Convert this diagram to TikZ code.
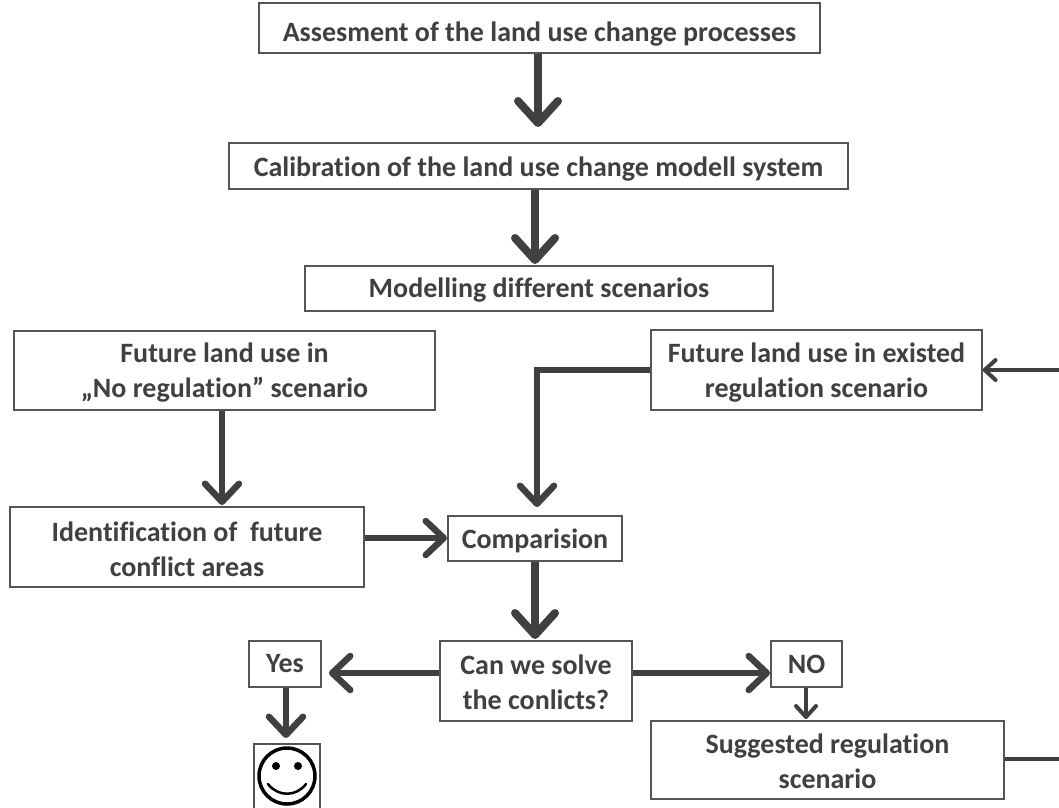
\documentclass[tikz,border=0pt]{standalone}
\usepackage{fontspec}
\setmainfont[Ligatures=NoCommon]{Carlito}
\usetikzlibrary{arrows.meta,calc}
\definecolor{ink}{HTML}{404040}
\definecolor{edge}{HTML}{555555}
\tikzset{
  x=1pt,y=-1pt,
  boxn/.style={draw=edge,line width=1.2pt,fill=white,inner sep=0pt,align=center,text=ink,
    font=\fontsize{28}{35}\selectfont\bfseries},
  big/.style={draw=ink,line width=8pt,-{Straight Barb[round,length=22pt,width=40pt,line width=8pt]}},
  mid/.style={draw=ink,line width=6.5pt,-{Straight Barb[round,length=18pt,width=34pt,line width=6.5pt]}},
  small/.style={draw=ink,line width=4pt,-{Straight Barb[round,length=11pt,width=20pt,line width=4pt]}},
}
\newcommand{\sh}[1]{\rule{0pt}{#1pt}}
\newcommand{\bx}[6]{\node[boxn,minimum width=#3-#2,minimum height=#5-#4] (#1) at ({(#2+#3)/2},{(#4+#5)/2}) {#6};}
\begin{document}
\begin{tikzpicture}
\useasboundingbox (0,0) rectangle (1059,807);
\clip (0,0) rectangle (1059,807);
\bx{a}{259}{820}{3}{53}{\sh{32}Assesment of the land use change processes}
\bx{b}{229}{848}{143}{189}{\sh{26}Calibration of the land use change modell system}
\bx{c}{305}{773}{266}{311}{\sh{23}Modelling different scenarios}
\bx{d}{14}{435}{331}{410}{\sh{24}Future land use in\\„No regulation” scenario}
\bx{e}{651}{982}{330}{410}{\sh{24}Future land use in existed\\regulation scenario}
\bx{f}{10}{364}{507}{587}{\sh{24}Identification of \ future\\conflict areas}
\bx{g}{448}{622}{516}{561}{\sh{24}Comparision}
\bx{h}{440}{632}{641}{721}{\sh{22}Can we solve\\the conlicts?}
\bx{y}{249}{321}{641}{687}{Yes}
\bx{n}{771}{842}{641}{687}{NO}
\bx{s}{651}{1004}{721}{799}{\sh{22}Suggested regulation\\scenario}
\node[draw=edge,line width=1.2pt,fill=white,minimum width=66pt,minimum height=70pt,inner sep=0pt] (sm) at (287,779) {};
\draw[black,line width=3.5pt] (287,776) circle (28);
\fill[black] (276,766) circle (4) (298,766) circle (4);
\draw[black,line width=2.5pt,line cap=round] (268,784) .. controls (278,797) and (296,797) .. (306,784);
\coordinate (r1) at (1059,370);
\coordinate (r2) at (1059,759);
\coordinate (c1) at (537,370);
\coordinate (c2) at (537,507);
\draw[big] (a.south -| 538,0) -- (538,127);
\draw[big] (b.south -| 535,0) -- (535,264);
\draw[mid] (d.south -| 222,0) -- (222,505);
\draw[mid] (e.west) -- (c1) -- (c2);
\draw[mid] (f.east |- 0,538) -- (447,538);
\draw[big] (g.south -| 535,0) -- (535,639);
\draw[mid] (h.west |- 0,673) -- (329,673);
\draw[mid] (h.east |- 0,673) -- (770,673);
\draw[mid] (y.south -| 286,0) -- (286,738);
\draw[small] (n.south -| 806,0) -- (806,719);
\draw[small] (r1) -- (e.east);
\draw[line width=4pt,draw=ink] (s.east |- 0,759) -- (r2);
\end{tikzpicture}
\end{document}
